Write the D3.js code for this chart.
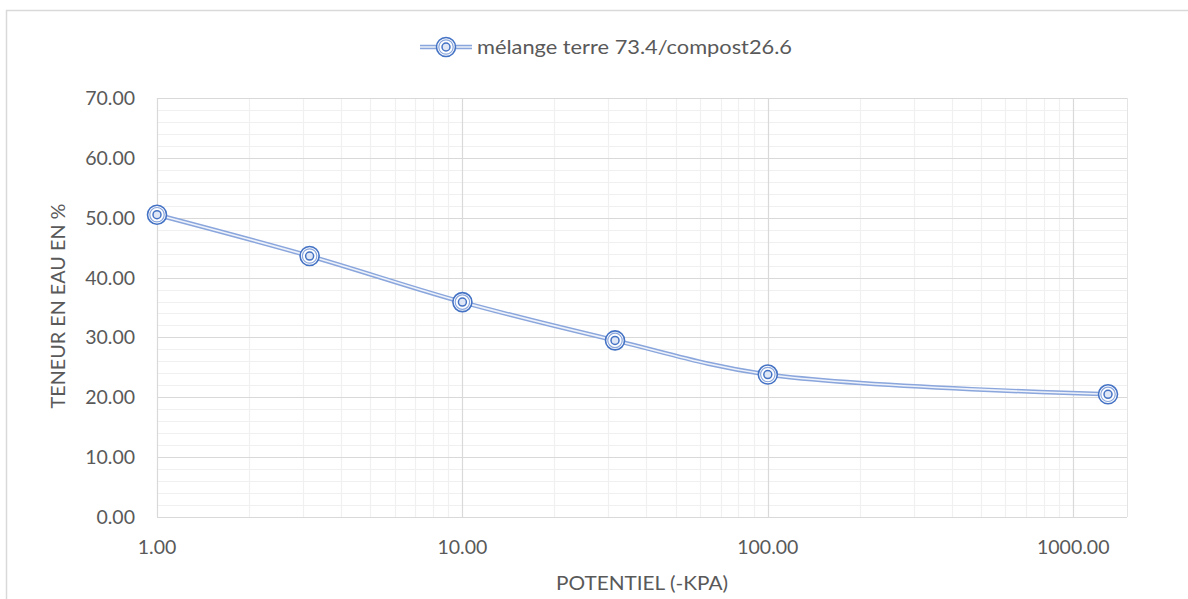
<!DOCTYPE html>
<html><head><meta charset="utf-8">
<script src="https://cdn.jsdelivr.net/npm/d3@7"></script>
<style>
body{margin:0;background:#fff;}
svg{display:block;font-family:Lato,"Open Sans",sans-serif;}
</style></head>
<body><svg id="c" width="1188" height="599"></svg>
<script>
const potentiel = [1, 3.16, 10, 31.6, 100, 1300];
const teneur = [50.5, 43.6, 35.9, 29.5, 23.8, 20.5];
const seriesName = "mélange terre 73.4/compost26.6";
const yTicks = [0, 10, 20, 30, 40, 50, 60, 70];
const xTicks = [1, 10, 100, 1000];
const xTitle = "POTENTIEL (-KPA)";
const yTitle = "TENEUR EN EAU EN %";

const svg = d3.select("#c");
const L = 157, R = 1127, T = 98, B = 517;
const x = d3.scaleLog().domain([1, 1500]).range([L, R]);
const y = d3.scaleLinear().domain([0, 70]).range([B, T]);
const blue = "#4472C4", txt = "#595959";

// chart border
svg.append("rect").attr("x", 6.5).attr("y", 10.5).attr("width", 1300).attr("height", 700)
  .attr("fill", "none").attr("stroke", "#d9d9d9").attr("stroke-width", 1.5);

const g = svg.append("g");
const yMinor = d3.range(0, 70.01, 2).filter(v => v % 10 !== 0);
g.selectAll(".ym").data(yMinor).join("line")
  .attr("x1", L).attr("x2", R).attr("y1", d => Math.round(y(d)) + 0.5).attr("y2", d => Math.round(y(d)) + 0.5)
  .attr("stroke", "#f0f0f0").attr("stroke-width", 1.2);
const xMinor = [];
[1, 10, 100, 1000].forEach(dec => { for (let k = 2; k <= 9; k++) { const v = dec * k; if (v < 1500) xMinor.push(v); } });
g.selectAll(".xm").data(xMinor).join("line")
  .attr("y1", T).attr("y2", B).attr("x1", d => Math.round(x(d)) + 0.5).attr("x2", d => Math.round(x(d)) + 0.5)
  .attr("stroke", "#f0f0f0").attr("stroke-width", 1.2);
g.selectAll(".yM").data(yTicks).join("line")
  .attr("x1", L).attr("x2", R).attr("y1", d => Math.round(y(d)) + 0.5).attr("y2", d => Math.round(y(d)) + 0.5)
  .attr("stroke", "#d9d9d9").attr("stroke-width", 1.2);
g.selectAll(".xM").data(xTicks).join("line")
  .attr("y1", T).attr("y2", B).attr("x1", d => Math.round(x(d)) + 0.5).attr("x2", d => Math.round(x(d)) + 0.5)
  .attr("stroke", "#d9d9d9").attr("stroke-width", 1.2);
g.append("line").attr("x1", R + 0.5).attr("x2", R + 0.5).attr("y1", T).attr("y2", B).attr("stroke", "#e4e4e4");

// tick labels
svg.selectAll(".yl").data(yTicks).join("text")
  .attr("x", 135).attr("y", d => y(d)).attr("dy", "0.36em").attr("text-anchor", "end")
  .attr("font-size", 19.5).attr("fill", txt).text(d => d3.format(".2f")(d));
svg.selectAll(".xl").data(xTicks).join("text")
  .attr("x", d => x(d)).attr("y", 547).attr("dy", "0.36em").attr("text-anchor", "middle")
  .attr("font-size", 19.5).attr("fill", txt).text(d => d3.format(".2f")(d));

// titles
svg.append("text").attr("x", 642).attr("y", 583).attr("dy", "0.36em").attr("text-anchor", "middle")
  .attr("font-size", 19).attr("fill", txt).attr("textLength", 172).attr("lengthAdjust", "spacingAndGlyphs").text(xTitle);
svg.append("text").attr("transform", `translate(58,306) rotate(-90)`).attr("dy", "0.36em").attr("text-anchor", "middle")
  .attr("font-size", 19).attr("fill", txt).attr("textLength", 205).attr("lengthAdjust", "spacingAndGlyphs").text(yTitle);

// series line (double)
const data = potentiel.map((p, i) => ({ p, v: teneur[i] }));
const line = d3.line().x(d => x(d.p)).y(d => y(d.v)).curve(d3.curveCatmullRom.alpha(0.5));
svg.append("path").attr("d", line(data)).attr("fill", "none").attr("stroke", "#8aa6dc").attr("stroke-width", 4.5);
svg.append("path").attr("d", line(data)).attr("fill", "none").attr("stroke", "#eef2fa").attr("stroke-width", 1.6);

function marker(sel) {
  sel.append("circle").attr("r", 9.5).attr("fill", "#fff").attr("stroke", blue).attr("stroke-width", 1.6);
  sel.append("circle").attr("r", 7.2).attr("fill", "none").attr("stroke", "#8aa6dc").attr("stroke-width", 1.2);
  sel.append("circle").attr("r", 4).attr("fill", "#dfe6f5").attr("stroke", blue).attr("stroke-width", 1.5);
}
svg.selectAll(".m").data(data).join("g").attr("transform", d => `translate(${x(d.p)},${y(d.v)})`).call(marker);

// legend
const lg = svg.append("g");
lg.append("line").attr("x1", 420).attr("x2", 472).attr("y1", 47).attr("y2", 47).attr("stroke", "#8aa6dc").attr("stroke-width", 4.5);
lg.append("line").attr("x1", 420).attr("x2", 472).attr("y1", 47).attr("y2", 47).attr("stroke", "#eef2fa").attr("stroke-width", 1.6);
lg.append("g").attr("transform", "translate(446,47)").call(marker);
lg.append("text").attr("x", 477).attr("y", 47).attr("dy", "0.36em").attr("font-size", 20).attr("fill", txt)
  .attr("textLength", 315).attr("lengthAdjust", "spacingAndGlyphs").text(seriesName);
</script></body></html>
